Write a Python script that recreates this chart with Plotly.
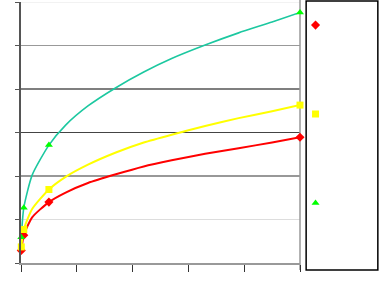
import plotly.graph_objects as go

# ---- data ----
x_vals = [0.005, 0.05, 0.2, 0.5, 0.8, 1.2, 1.7, 2.2, 2.7, 3.3, 3.9, 4.5, 5.0]
red_vals = [0.29, 0.64, 1.05, 1.40, 1.62, 1.84, 2.04, 2.22, 2.36, 2.51, 2.64, 2.77, 2.89]
yellow_vals = [0.37, 0.77, 1.24, 1.69, 1.98, 2.26, 2.54, 2.77, 2.95, 3.15, 3.33, 3.49, 3.63]
green_vals = [0.59, 1.27, 2.02, 2.71, 3.17, 3.61, 4.03, 4.39, 4.70, 5.01, 5.29, 5.54, 5.76]
marker_idx = [0, 1, 3, 12]
x_ticks = [0, 1, 2, 3, 4, 5]
y_ticks = [0, 1, 2, 3, 4, 5, 6]
grid_vals = [1, 2, 3, 4, 5, 6]

series = [
    ("", red_vals, "#ff0000", 2, "#ff0000", "diamond", 7),
    ("", yellow_vals, "#ffff00", 2, "#ffff00", "square", 7),
    ("", green_vals, "#1cc8a0", 1.6, "#00ff00", "triangle-up", 7),
]

fig = go.Figure()
for name, vals, lc, lw, mc, sym, ms in series:
    fig.add_trace(go.Scatter(
        x=x_vals, y=vals, mode="lines",
        line=dict(color=lc, width=lw, shape="spline", smoothing=0.6),
        showlegend=False, hoverinfo="skip", cliponaxis=False))
for i, (name, vals, lc, lw, mc, sym, ms) in enumerate(series):
    fig.add_trace(go.Scatter(
        x=[x_vals[k] for k in marker_idx], y=[vals[k] for k in marker_idx],
        mode="markers", name=name, legendgroup=f"g{i}",
        marker=dict(color=mc, symbol=sym, size=ms, line=dict(width=0)),
        cliponaxis=False))

grid_colors = ["#dddddd", "#333333", "#444444", "#000000", "#999999", "#e6e6e6"]
shapes = []
for gv, gc in zip(grid_vals, grid_colors):
    shapes.append(dict(type="line", xref="x domain", yref="y", x0=0, x1=1,
                       y0=gv, y1=gv, line=dict(color=gc, width=1.2), layer="below"))
# right frame line
shapes.append(dict(type="line", xref="x domain", yref="y domain", x0=1, x1=1,
                   y0=-0.027, y1=1.008, line=dict(color="#999999", width=1.5), layer="below"))
# legend box
shapes.append(dict(type="rect", xref="paper", yref="paper", x0=1.022, x1=1.279,
                   y0=-0.027, y1=1.004, line=dict(color="#000000", width=1.5),
                   fillcolor="rgba(0,0,0,0)"))

fig.update_layout(
    width=380, height=295,
    margin=dict(l=21, r=80, t=2, b=32, pad=0),
    paper_bgcolor="white", plot_bgcolor="white",
    shapes=shapes,
    showlegend=True,
    legend=dict(x=0.984, y=0.967, xanchor="left", yanchor="top",
                bgcolor="rgba(0,0,0,0)", borderwidth=0,
                tracegroupgap=70, font=dict(size=12, family="Arial")),
    xaxis=dict(range=[0, 5], tickvals=x_ticks, showticklabels=False,
               ticks="outside", ticklen=7, tickcolor="#333333", tickwidth=1.2,
               showline=True, linecolor="#999999", linewidth=2,
               showgrid=False, zeroline=False, fixedrange=True),
    yaxis=dict(range=[0, 6], tickvals=y_ticks, showticklabels=False,
               ticks="outside", ticklen=4, tickcolor="#555555", tickwidth=1.2,
               showline=True, linecolor="#555555", linewidth=2,
               showgrid=False, zeroline=False, fixedrange=True),
)

fig.write_html("out.html")
